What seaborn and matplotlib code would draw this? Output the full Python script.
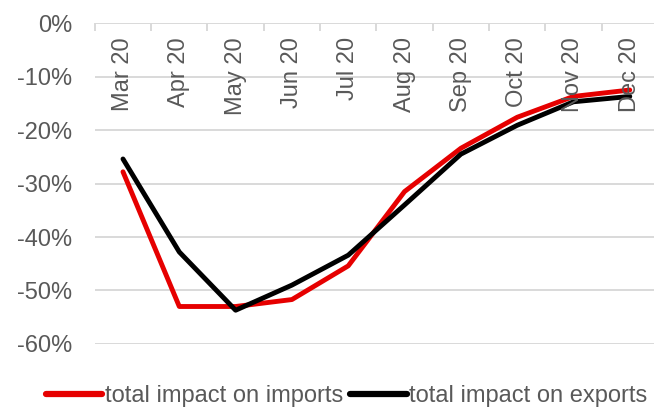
import pandas as pd
import matplotlib
matplotlib.use("Agg")
import matplotlib.pyplot as plt
from matplotlib.ticker import FixedLocator, FuncFormatter
import seaborn as sns

months = ["Mar 20", "Apr 20", "May 20", "Jun 20", "Jul 20",
          "Aug 20", "Sep 20", "Oct 20", "Nov 20", "Dec 20"]
imports = [-27.8, -53.0, -53.0, -51.7, -45.4, -31.5, -23.4, -17.6, -13.7, -12.5]
exports = [-25.4, -42.8, -53.7, -49.0, -43.4, -34.0, -24.5, -19.1, -14.7, -13.7]
series_names = ["total impact on imports", "total impact on exports"]
series_colors = ["#e60000", "#000000"]

df = pd.DataFrame({
    "pos": list(range(len(months))) * 2,
    "month": months * 2,
    "value": imports + exports,
    "series": [series_names[0]] * len(months) + [series_names[1]] * len(months),
})

sns.set_style("white")
plt.rcParams["font.family"] = ["Liberation Sans", "DejaVu Sans"]
grey = "#595959"

fig = plt.figure(figsize=(6.54, 4.07), dpi=100)
ax = fig.add_axes([0.145, 0.155, 0.855, 0.788])

sns.lineplot(data=df, x="pos", y="value", hue="series", palette=series_colors,
             hue_order=series_names, linewidth=3.5, ax=ax, legend=False)

ax.set_xlim(-0.5, 9.43)
ax.set_ylim(-60, 0)
ax.set_yticks(range(-60, 1, 10))
ax.yaxis.set_major_formatter(FuncFormatter(lambda v, p: f"{v:.0f}%"))
ax.grid(axis="y", color="#d9d9d9", linewidth=1.4)
ax.set_axisbelow(True)
for s in ax.spines.values():
    s.set_visible(False)
ax.tick_params(axis="y", length=0, pad=16, labelsize=17, labelcolor=grey)

# category boundary ticks hanging from the 0% line
ax.set_xticks([])
ax.xaxis.set_minor_locator(FixedLocator([i - 0.5 for i in range(len(months) + 1)]))
ax.tick_params(axis="x", which="minor", bottom=False, top=True, direction="in",
               length=6, width=1.4, color="#d9d9d9")
ax.set_xlabel("")
ax.set_ylabel("")

for i, m in enumerate(months):
    ax.text(i, -2.6, m, rotation=90, ha="center", va="top",
            fontsize=17, color=grey)

handles = [plt.Line2D([], [], color=c, linewidth=4.5) for c in series_colors]
leg = fig.legend(handles, series_names, loc="center", bbox_to_anchor=(0.53, 0.027),
                 ncol=2, frameon=False, fontsize=17, handlelength=2.4,
                 handletextpad=0.1, columnspacing=0.3, borderaxespad=0)
for t in leg.get_texts():
    t.set_color(grey)

fig.savefig("out.png", dpi=100)
